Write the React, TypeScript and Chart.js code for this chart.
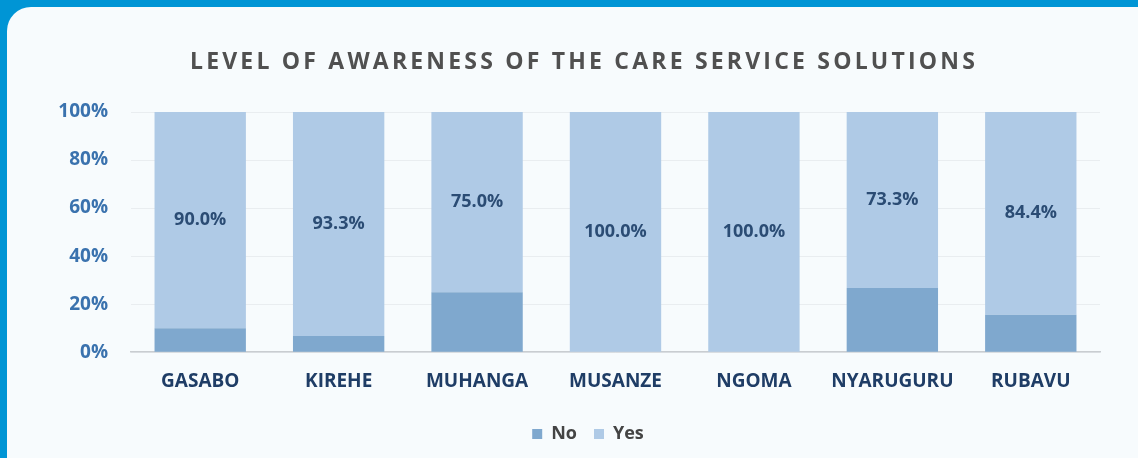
import React, { useEffect, useRef } from "react";
import { Chart, registerables } from "chart.js";

Chart.register(...registerables);

const categories = ["GASABO", "KIREHE", "MUHANGA", "MUSANZE", "NGOMA", "NYARUGURU", "RUBAVU"];
const noValues = [10.0, 6.7, 25.0, 0, 0, 26.7, 15.6];
const yesValues = [90.0, 93.3, 75.0, 100.0, 100.0, 73.3, 84.4];
const yTicks = [0, 20, 40, 60, 80, 100];
const title = "LEVEL OF AWARENESS OF THE CARE SERVICE SOLUTIONS";

const FONT = "'Open Sans', sans-serif";

const decorPlugin = {
  id: "decor",
  afterLayout(chart: any) {
    if (chart.legend) {
      chart.legend.left += 18;
      chart.legend.right += 18;
    }
  },
  afterDatasetsDraw(chart: any) {
    const ctx = chart.ctx;
    const meta = chart.getDatasetMeta(1);
    ctx.save();
    ctx.font = `bold 18px ${FONT}`;
    ctx.fillStyle = "#2B4C74";
    ctx.textAlign = "center";
    ctx.textBaseline = "middle";
    meta.data.forEach((bar: any, i: number) => {
      const y = (bar.y + bar.base) / 2;
      ctx.fillText(yesValues[i].toFixed(1) + "%", bar.x, y);
    });
    ctx.restore();
  },
  afterDraw(chart: any) {
    const ctx = chart.ctx;
    ctx.save();
    ctx.font = `bold 23px ${FONT}`;
    (ctx as any).letterSpacing = "3.2px";
    ctx.fillStyle = "#505050";
    ctx.textAlign = "center";
    ctx.textBaseline = "middle";
    ctx.fillText(title, 584, 62);
    ctx.restore();
  },
};

export default function App() {
  const ref = useRef<HTMLCanvasElement | null>(null);

  useEffect(() => {
    if (!ref.current) return;
    const chart = new Chart(ref.current, {
      type: "bar",
      data: {
        labels: categories,
        datasets: [
          {
            label: "No",
            data: noValues,
            backgroundColor: "#7FA8CE",
            barPercentage: 0.66,
            categoryPercentage: 1,
          },
          {
            label: "Yes",
            data: yesValues,
            backgroundColor: "#AFCAE6",
            barPercentage: 0.66,
            categoryPercentage: 1,
          },
        ],
      },
      options: {
        responsive: false,
        animation: false,
        layout: { padding: { top: 112, left: 40, right: 38, bottom: 5 } },
        plugins: {
          title: { display: false },
          tooltip: { enabled: false },
          legend: {
            position: "bottom",
            labels: {
              boxWidth: 10,
              boxHeight: 10,
              padding: 17,
              color: "#444444",
              font: { family: FONT, size: 18, weight: "bold" },
            },
          },
        },
        scales: {
          x: {
            stacked: true,
            grid: { display: false, drawTicks: false },
            border: { display: true, color: "#C9CDD1", width: 1.5 },
            afterFit(scale: any) {
              scale.height -= 3;
            },
            ticks: {
              color: "#1F3D66",
              padding: 18,
              font: { family: FONT, size: 19, weight: "bold" },
            },
          },
          y: {
            stacked: true,
            min: 0,
            max: 100,
            afterBuildTicks(scale: any) {
              scale.ticks = yTicks.map((v) => ({ value: v }));
            },
            afterFit(scale: any) {
              scale.width = 91;
            },
            grid: { color: "#E9EDF0", drawTicks: false },
            border: { display: false },
            ticks: {
              color: "#3A72AE",
              padding: 23,
              font: { family: FONT, size: 19, weight: "bold" },
              callback: (v: any) => v + "%",
            },
          },
        },
      },
      plugins: [decorPlugin],
    });
    return () => chart.destroy();
  }, []);

  return (
    <div style={{ position: "fixed", left: 0, top: 0, width: 1138, height: 458, background: "#0095D5", overflow: "hidden" }}>
      <div style={{ position: "absolute", left: 7, top: 7, width: 1160, height: 475, borderRadius: 24, background: "#F7FBFD" }} />
      <canvas ref={ref} width={1138} height={458} style={{ position: "absolute", left: 0, top: 0 }} />
    </div>
  );
}
